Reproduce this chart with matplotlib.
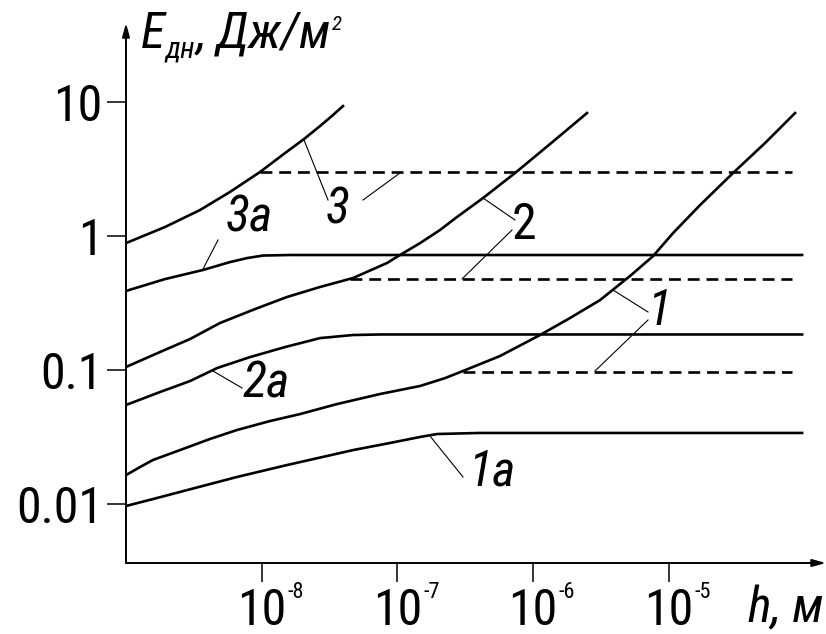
import matplotlib
matplotlib.use("Agg")
import matplotlib.pyplot as plt
from matplotlib import font_manager
from matplotlib.lines import Line2D
import numpy as np

# curves as lg(h, m) / lg(E, J/m^2)
lg_h_1 = [-9.000, -8.897, -8.801, -8.602, -8.381, -8.182, -7.939, -7.718, -7.445,
          -7.128, -6.833, -6.649, -6.517, -6.244, -5.949, -5.728, -5.507, -5.286,
          -5.116, -4.969, -4.770, -4.527, -4.291, -4.070]
lg_E_1 = [-1.786, -1.726, -1.673, -1.599, -1.516, -1.449, -1.382, -1.330, -1.255,
          -1.180, -1.120, -1.061, -1.008, -0.896, -0.739, -0.612, -0.478, -0.298,
          -0.149, 0.023, 0.232, 0.472, 0.696, 0.920]
lg_h_1a = [-9.000, -8.801, -8.550, -8.182, -7.814, -7.327, -7.055, -6.833, -6.708,
           -6.391, -4.018]
lg_E_1a = [-2.017, -1.965, -1.898, -1.800, -1.711, -1.599, -1.546, -1.501, -1.479,
           -1.471, -1.471]
lg_h_2 = [-9.000, -8.749, -8.528, -8.307, -8.049, -7.814, -7.570, -7.327, -7.077,
          -6.981, -6.833, -6.686, -6.561, -6.369, -6.133, -5.876, -5.603]
lg_E_2 = [-0.978, -0.866, -0.769, -0.649, -0.545, -0.455, -0.380, -0.313, -0.201,
          -0.141, -0.052, 0.046, 0.143, 0.285, 0.472, 0.688, 0.920]
lg_h_2a = [-9.000, -8.749, -8.528, -8.329, -8.086, -7.828, -7.570, -7.327, -7.128,
           -4.018]
lg_E_2a = [-1.262, -1.165, -1.083, -0.986, -0.904, -0.829, -0.762, -0.739, -0.735,
           -0.735]
lg_h_3 = [-9.000, -8.713, -8.455, -8.234, -8.013, -7.828, -7.688, -7.570, -7.475,
          -7.401]
lg_E_3 = [-0.052, 0.068, 0.195, 0.330, 0.479, 0.621, 0.726, 0.823, 0.905, 0.972]
lg_h_3a = [-9.000, -8.713, -8.433, -8.234, -8.108, -7.990, -7.792, -4.018]
lg_E_3a = [-0.410, -0.321, -0.253, -0.194, -0.164, -0.145, -0.141, -0.141]

# dashed asymptotes for 1, 2, 3
dash_lg_E = [-1.012, -0.324, 0.479]
dash_lg_h0 = [-6.517, -7.349, -8.013]
dash_lg_h1 = -4.092

xtick_vals = [1e-8, 1e-7, 1e-6, 1e-5]
xtick_exp = ["-8", "-7", "-6", "-5"]
ytick_vals = [0.01, 0.1, 1, 10]
ytick_labels = ["0.01", "0.1", "1", "10"]

names = {f.name for f in font_manager.fontManager.ttflist}
narrow = next((n for n in ["Liberation Sans Narrow", "Arial Narrow", "Roboto Condensed",
                           "Open Sans Condensed", "Noto Sans Condensed"] if n in names), None)
fam = narrow or "Liberation Sans"
FS = 36 if narrow else 32
plt.rcParams["font.family"] = [fam, "DejaVu Sans"]

W, H = 826, 634
fig = plt.figure(figsize=(W / 100, H / 100), dpi=100)
ax = fig.add_axes([126 / W, 71 / H, 700 / W, 540 / H])
ax.set_xscale("log")
ax.set_yscale("log")
ax.set_xlim(1e-9, 10 ** -3.842)
ax.set_ylim(10 ** -2.443, 10 ** 1.593)

lw = 1.9
curves = [(lg_h_1, lg_E_1), (lg_h_1a, lg_E_1a), (lg_h_2, lg_E_2),
          (lg_h_2a, lg_E_2a), (lg_h_3, lg_E_3), (lg_h_3a, lg_E_3a)]
for lh, le in curves:
    ax.plot(10 ** np.array(lh), 10 ** np.array(le), color="black", lw=lw,
            solid_joinstyle="round")
for le, lh0 in zip(dash_lg_E, dash_lg_h0):
    ax.plot([10 ** lh0, 10 ** dash_lg_h1], [10 ** le, 10 ** le], color="black",
            lw=lw, dashes=(4.5, 2.6))

# axes with arrows
for s in ax.spines.values():
    s.set_visible(False)
arrow = dict(arrowstyle="-|>,head_length=0.8,head_width=0.22", lw=1.4,
             color="black", shrinkA=0, shrinkB=0)
ax.annotate("", xy=(1.0, 0), xytext=(0, 0), xycoords="axes fraction", arrowprops=arrow)
ax.annotate("", xy=(0, 1.0), xytext=(0, 0), xycoords="axes fraction", arrowprops=arrow)

ax.minorticks_off()
ax.set_yticks(ytick_vals)
ax.set_yticklabels(ytick_labels, fontsize=FS)
ax.set_xticks(xtick_vals)
ax.set_xticklabels([""] * len(xtick_vals))
ax.tick_params(direction="out", length=13.7, width=1.1, pad=3)

fig.canvas.draw()
r = fig.canvas.get_renderer()

for v, e in zip(xtick_vals, xtick_exp):
    t = ax.annotate("10", xy=(v, 0), xycoords=("data", "axes fraction"),
                    xytext=(0, -44.6), textcoords="offset points",
                    ha="center", va="baseline", fontsize=FS)
    bb = t.get_window_extent(r)
    fig.text(bb.x1 / W + 1 / W, 1 - 598 / H, e, fontsize=16, ha="left", va="baseline")


def px(x, y):
    return x / W, 1 - y / H


# axis titles, placed piece by piece
parts = [("E", FS, 48, -2), ("дн", 21, 58, 0), (", Дж/м", FS, 48, 2), ("2", 15, 30, 1)]
x = 143
for s, size, base, gap in parts:
    t = fig.text(*px(x + gap, base), s, fontsize=size, style="italic", va="baseline")
    x = t.get_window_extent(r).x1
fig.text(*px(824, 622), "h, м", fontsize=FS, style="italic", ha="right", va="baseline")

# curve labels
labels = [("3", 338, 210, "italic"), ("3a", 249, 218, "italic"), ("2", 524, 225, "normal"),
          ("2a", 266, 384, "italic"), ("1", 659, 311, "italic"), ("1a", 492, 472, "italic")]
for s, x, y, st in labels:
    fig.text(*px(x, y), s, fontsize=FS, style=st, ha="center", va="center")

leaders = [((304, 140), (328, 200)), ((363, 200), (400, 173)),
           ((218, 240), (203, 269)),
           ((483, 198), (515, 220)), ((512, 230), (462, 279)),
           ((213, 371), (242, 388)),
           ((613, 290), (648, 312)), ((648, 320), (595, 371)),
           ((430, 436), (463, 477))]
for (x0, y0), (x1, y1) in leaders:
    a, b = px(x0, y0)
    c, d = px(x1, y1)
    fig.add_artist(Line2D([a, c], [b, d], color="black", lw=0.8, transform=fig.transFigure))

fig.savefig("out.png", dpi=100)
